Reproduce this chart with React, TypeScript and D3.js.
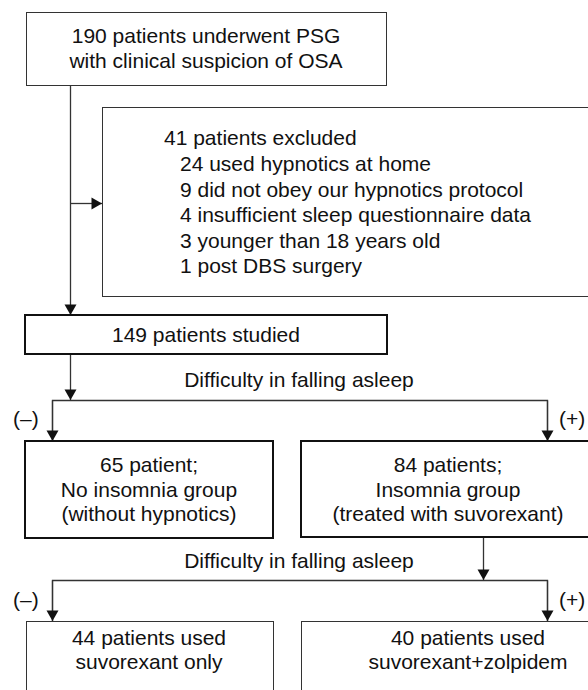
import React from "react";
import * as d3 from "d3";

const W = 588;
const H = 690;

const topLines = ["190 patients underwent PSG", "with clinical suspicion of OSA"];
const excludedHeader = "41 patients excluded";
const excludedReasons = [
  "24 used hypnotics at home",
  "9 did not obey our hypnotics protocol",
  "4 insufficient sleep questionnaire data",
  "3 younger than 18 years old",
  "1 post DBS surgery",
];
const studiedLines = ["149 patients studied"];
const splitLabel = "Difficulty in falling asleep";
const branchLabels = ["(\u2013)", "(+)"];
const noInsomniaLines = ["65 patient;", "No insomnia group", "(without hypnotics)"];
const insomniaLines = ["84 patients;", "Insomnia group", "(treated with suvorexant)"];
const suvoOnlyLines = ["44 patients used", "suvorexant only"];
const suvoZolLines = ["40 patients used", "suvorexant+zolpidem"];

const FONT = "'Liberation Sans', Arial, Helvetica, sans-serif";
const FS = 21;
const TEXT = "#111";
const LINE = "#333";

type Box = { x: number; y: number; w: number; h: number; sw: number };

const boxes: Record<string, Box> = {
  top: { x: 26, y: 12, w: 360, h: 73, sw: 1 },
  excl: { x: 102, y: 107, w: 520, h: 189, sw: 1 },
  studied: { x: 25, y: 315, w: 362, h: 39, sw: 2 },
  noIns: { x: 25, y: 441, w: 248, h: 97, sw: 2 },
  ins: { x: 301, y: 441, w: 294, h: 96, sw: 2 },
  suvo: { x: 26, y: 621, w: 247, h: 110, sw: 1 },
  suvoZol: { x: 301, y: 621, w: 334, h: 110, sw: 1 },
};

function Arrow({ pts }: { pts: [number, number][] }) {
  const p = d3.path();
  pts.forEach(([x, y], i) => (i === 0 ? p.moveTo(x, y) : p.lineTo(x, y)));
  const [x1, y1] = pts[pts.length - 2];
  const [x2, y2] = pts[pts.length - 1];
  const ang = Math.atan2(y2 - y1, x2 - x1);
  const L = 10.5;
  const hw = 6;
  const bx = x2 - L * Math.cos(ang);
  const by = y2 - L * Math.sin(ang);
  const nx = -Math.sin(ang);
  const ny = Math.cos(ang);
  const head = d3.path();
  head.moveTo(x2, y2);
  head.lineTo(bx + nx * hw, by + ny * hw);
  head.lineTo(bx - nx * hw, by - ny * hw);
  head.closePath();
  return (
    <g>
      <path d={p.toString()} fill="none" stroke={LINE} strokeWidth={1.3} />
      <path d={head.toString()} fill="#111" />
    </g>
  );
}

function Rect({ b }: { b: Box }) {
  const off = b.sw % 2 === 1 ? 0.5 : 0;
  return (
    <rect
      x={b.x + off}
      y={b.y + off}
      width={b.w}
      height={b.h}
      fill="#fff"
      stroke={b.sw > 1 ? "#111" : LINE}
      strokeWidth={b.sw}
    />
  );
}

function CenterText({ lines, cx, y0, dy }: { lines: string[]; cx: number; y0: number; dy: number }) {
  return (
    <g>
      {lines.map((t, i) => (
        <text key={i} x={cx} y={y0 + i * dy} textAnchor="middle">
          {t}
        </text>
      ))}
    </g>
  );
}

export default function App() {
  const b = boxes;
  const mainX = 70.5;
  const leftX = 52.5;
  const rightX = 547.5;
  const split1Y = 400.5;
  const split2Y = 580.5;
  const insDownX = 483.5;
  const labelCx = 299;

  return (
    <svg
      width={W}
      height={H}
      viewBox={`0 0 ${W} ${H}`}
      style={{ position: "absolute", left: 0, top: 0, background: "#fff" }}
      fontFamily={FONT}
      fontSize={FS}
      fill={TEXT}
    >
      <rect x={0} y={0} width={W} height={H} fill="#fff" />

      {/* connectors */}
      <Arrow pts={[[mainX, b.top.y + b.top.h], [mainX, b.studied.y]]} />
      <Arrow pts={[[mainX, 203.5], [b.excl.x, 203.5]]} />
      <Arrow pts={[[mainX, b.studied.y + b.studied.h], [mainX, split1Y - 0.5]]} />
      <path
        d={`M${leftX},${b.noIns.y}V${split1Y}H${rightX}V${b.ins.y}`}
        fill="none"
        stroke={LINE}
        strokeWidth={1.3}
      />
      <Arrow pts={[[leftX, split1Y], [leftX, b.noIns.y]]} />
      <Arrow pts={[[rightX, split1Y], [rightX, b.ins.y]]} />

      <Arrow pts={[[insDownX, b.ins.y + b.ins.h], [insDownX, split2Y - 0.5]]} />
      <path
        d={`M${leftX},${b.suvo.y}V${split2Y}H${rightX}V${b.suvoZol.y}`}
        fill="none"
        stroke={LINE}
        strokeWidth={1.3}
      />
      <Arrow pts={[[leftX, split2Y], [leftX, b.suvo.y]]} />
      <Arrow pts={[[rightX, split2Y], [rightX, b.suvoZol.y]]} />

      {/* boxes */}
      {Object.values(b).map((bx, i) => (
        <Rect key={i} b={bx} />
      ))}

      {/* texts */}
      <CenterText lines={topLines} cx={206} y0={43} dy={25} />

      <text x={164} y={145}>
        {excludedHeader}
      </text>
      {excludedReasons.map((t, i) => (
        <text key={i} x={180} y={171 + i * 25.5}>
          {t}
        </text>
      ))}

      <CenterText lines={studiedLines} cx={206} y0={342} dy={25} />

      <text x={labelCx} y={387} textAnchor="middle">
        {splitLabel}
      </text>
      <text x={13} y={426}>
        {branchLabels[0]}
      </text>
      <text x={559} y={426}>
        {branchLabels[1]}
      </text>

      <CenterText lines={noInsomniaLines} cx={149} y0={472} dy={24.5} />
      <CenterText lines={insomniaLines} cx={448} y0={472} dy={24.5} />

      <text x={labelCx} y={568} textAnchor="middle">
        {splitLabel}
      </text>
      <text x={13} y={607}>
        {branchLabels[0]}
      </text>
      <text x={559} y={607}>
        {branchLabels[1]}
      </text>

      <CenterText lines={suvoOnlyLines} cx={149} y0={645} dy={23.5} />
      <CenterText lines={suvoZolLines} cx={468} y0={645} dy={23.5} />
    </svg>
  );
}
